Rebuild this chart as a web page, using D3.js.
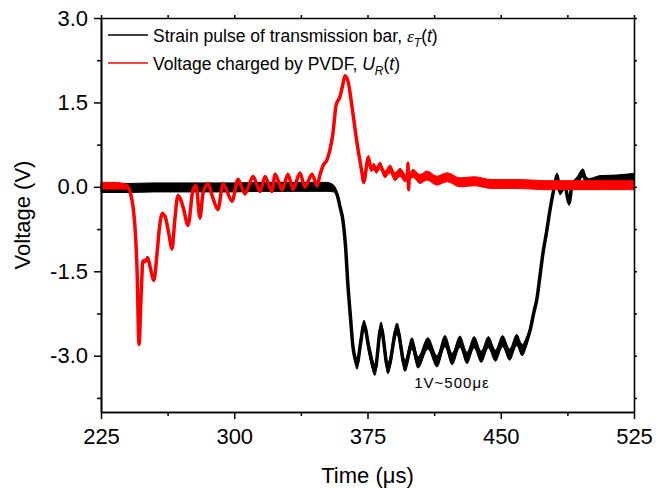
<!DOCTYPE html>
<html>
<head>
<meta charset="utf-8">
<script src="https://cdn.jsdelivr.net/npm/d3@7"></script>
<style>
  body { margin: 0; background: #fff; }
  text { font-family: "Liberation Sans", Arial, sans-serif; }
</style>
</head>
<body>
<div id="chart"></div>
<script>
// strain pulse of transmission bar (black)
const blackTime = [225, 240, 255, 270, 285, 300, 315, 330, 345, 352, 356, 358, 359.5, 361.2, 362.5, 364, 365.5, 366.8, 368, 369.1,
  371, 373, 376, 379.2, 382.6, 386.5, 391.6, 396.1, 400, 403.4, 409, 414.1, 418.6, 422.6, 427, 431, 435, 439, 443, 447,
  451, 455, 459, 462, 464.5, 466.5, 468.5, 470.5, 472, 473.8, 475.8, 477.7, 479.5, 480.5, 481.6, 483.3, 486, 488.5, 490, 493,
  496.3, 498, 500, 506, 515, 525];
const blackVolt = [-0.02, -0.02, -0.01, -0.01, -0.01, -0.01, 0.0, 0.0, 0.0, 0.0, -0.03, -0.15, -0.35, -0.6, -1.0, -1.75, -2.35, -2.84, -3.05, -3.15,
  -2.8, -2.45, -2.9, -3.25, -2.5, -3.22, -2.52, -3.18, -2.78, -3.12, -2.78, -3.1, -2.74, -3.06, -2.75, -3.04, -2.76, -3.02, -2.76, -3.0,
  -2.74, -2.98, -2.72, -2.9, -2.75, -2.55, -2.25, -1.96, -1.6, -1.17, -0.8, -0.41, -0.1, 0.05, 0.2, -0.08, 0.02, -0.28, 0.0, 0.1,
  0.25, 0.1, 0.07, 0.11, 0.12, 0.15];
const blackSpread = [0.08, 0.08, 0.08, 0.08, 0.08, 0.08, 0.08, 0.08, 0.08, 0.08, 0.06, 0.04, 0.03, 0.03, 0.03, 0.03, 0.03, 0.05, 0.08, 0.09,
  0.09, 0.08, 0.1, 0.1, 0.1, 0.1, 0.1, 0.1, 0.1, 0.1, 0.1, 0.1, 0.1, 0.1, 0.1, 0.1, 0.1, 0.1, 0.1, 0.1,
  0.1, 0.1, 0.1, 0.1, 0.08, 0.05, 0.03, 0.03, 0.03, 0.03, 0.03, 0.03, 0.03, 0.04, 0.05, 0.06, 0.06, 0.05, 0.06, 0.08,
  0.07, 0.08, 0.08, 0.09, 0.09, 0.09];

// voltage charged by PVDF (red)
const redTime = [225, 232, 238, 240, 241.5, 243, 244.1, 245.3, 246.4, 247.5, 248.6, 250, 251.2, 252.5, 254.8, 256.5, 258, 259.5, 261, 263,
  265, 266.5, 268.3, 269.5, 271.2, 274, 276.8, 278.5, 280.7, 282.4, 285.2, 288, 290.8, 293.7, 298.8, 302.1, 306, 310.6, 314.5, 317.3,
  321.2, 323, 327, 330.2, 333.1, 337, 339.8, 343.8, 346.6, 348.3, 350, 352.2, 353.9, 355.6, 357.3, 359.5, 361, 362.3, 364, 366.3,
  369.1, 371.9, 372.8, 375.5, 377, 378.5, 380, 382, 384.8, 387.7, 390.5, 393.3, 396, 397.5, 397.8, 398.1, 398.5, 400.6, 404.5, 408.5,
  414, 419.8, 427, 435, 445, 460, 475, 490, 510, 525];
const redVolt = [0.02, 0.02, 0.01, 0.0, -0.1, -0.35, -0.7, -1.48, -2.8, -2.0, -1.32, -1.32, -1.26, -1.4, -1.66, -1.2, -0.7, -0.48, -0.52, -0.8,
  -1.1, -0.6, -0.16, -0.2, -0.36, -0.68, -0.05, 0.02, -0.55, -0.12, 0.05, -0.2, -0.4, 0.05, -0.25, 0.13, -0.12, 0.18, -0.08, 0.18,
  -0.08, 0.22, -0.05, 0.22, -0.04, 0.24, 0.0, 0.22, 0.02, 0.22, 0.38, 0.48, 0.66, 0.96, 1.45, 1.6, 1.8, 1.97, 1.88, 1.42,
  0.78, 0.25, 0.08, 0.52, 0.32, 0.36, 0.3, 0.38, 0.22, 0.32, 0.18, 0.26, 0.16, 0.15, 0.42, -0.05, 0.15, 0.24, 0.14, 0.2,
  0.11, 0.17, 0.08, 0.1, 0.05, 0.05, 0.03, 0.03, 0.03, 0.03];
const redSpread = [0.06, 0.06, 0.05, 0.04, 0.03, 0.02, 0.02, 0.02, 0.02, 0.02, 0.03, 0.03, 0.03, 0.03, 0.03, 0.03, 0.03, 0.03, 0.03, 0.03,
  0.03, 0.03, 0.03, 0.03, 0.03, 0.03, 0.03, 0.03, 0.03, 0.03, 0.03, 0.03, 0.03, 0.03, 0.03, 0.03, 0.03, 0.03, 0.03, 0.03,
  0.03, 0.03, 0.03, 0.03, 0.03, 0.03, 0.03, 0.03, 0.03, 0.03, 0.03, 0.03, 0.03, 0.03, 0.03, 0.03, 0.03, 0.03, 0.03, 0.03,
  0.03, 0.03, 0.03, 0.04, 0.05, 0.06, 0.06, 0.06, 0.06, 0.07, 0.07, 0.07, 0.07, 0.03, 0.02, 0.02, 0.06, 0.07, 0.08, 0.08,
  0.08, 0.08, 0.08, 0.08, 0.08, 0.08, 0.08, 0.08, 0.08, 0.08];

const xTicks = [225, 300, 375, 450, 525];
const yTicks = [-3.0, -1.5, 0.0, 1.5, 3.0];
const xMinor = [262.5, 337.5, 412.5, 487.5];
const yMinor = [-3.75, -2.25, -0.75, 0.75, 2.25];

const width = 656;
const height = 488;
const margin = { top: 18, right: 22, bottom: 76, left: 101 };

const svg = d3.select("#chart")
  .append("svg")
  .attr("width", width)
  .attr("height", height);

const x = d3.scaleLinear().domain([225, 525]).range([margin.left, width - margin.right]);
const y = d3.scaleLinear().domain([-4, 3]).range([height - margin.bottom, margin.top]);

const zip = (ts, vs, ws) => ts.map((t, i) => ({ t: t, v: vs[i], w: ws[i] }));
const blackData = zip(blackTime, blackVolt, blackSpread);
const redData = zip(redTime, redVolt, redSpread);

const band = d3.area()
  .curve(d3.curveMonotoneX)
  .x((d) => x(d.t))
  .y0((d) => y(d.v - d.w))
  .y1((d) => y(d.v + d.w));
const line = d3.line()
  .curve(d3.curveMonotoneX)
  .x((d) => x(d.t))
  .y((d) => y(d.v));

function drawTrace(data, color) {
  const g = svg.append("g");
  g.append("path")
    .datum(data)
    .attr("d", band)
    .attr("fill", color)
    .attr("stroke", color)
    .attr("stroke-width", 1);
  g.append("path")
    .datum(data)
    .attr("d", line)
    .attr("fill", "none")
    .attr("stroke", color)
    .attr("stroke-width", 3.5)
    .attr("stroke-linejoin", "round");
}
drawTrace(blackData, "#000000");
drawTrace(redData, "#ff0000");

// axes
const fmtY = (d) => d.toFixed(1);
const styleAxis = (g) => {
  g.selectAll(".domain").attr("stroke", "#000").attr("stroke-width", 1.6);
  g.selectAll(".tick line").attr("stroke", "#000").attr("stroke-width", 1.5);
  g.selectAll("text").attr("font-size", 22).attr("fill", "#000")
    .style("font-family", '"Liberation Sans", Arial, sans-serif');
};

const yBottom = height - margin.bottom;
const xRight = width - margin.right;

svg.append("g")
  .attr("transform", `translate(0,${yBottom})`)
  .call(d3.axisBottom(x).tickValues(xTicks).tickSize(7).tickSizeOuter(0).tickPadding(9).tickFormat((d) => d))
  .call(styleAxis);
svg.append("g")
  .attr("transform", `translate(0,${yBottom})`)
  .call(d3.axisBottom(x).tickValues(xMinor).tickSize(4).tickSizeOuter(0).tickFormat(""))
  .call(styleAxis);

svg.append("g")
  .attr("transform", `translate(${margin.left},0)`)
  .call(d3.axisLeft(y).tickValues(yTicks).tickSize(7).tickSizeOuter(0).tickPadding(6).tickFormat(fmtY))
  .call(styleAxis);
svg.append("g")
  .attr("transform", `translate(${margin.left},0)`)
  .call(d3.axisLeft(y).tickValues(yMinor).tickSize(4).tickSizeOuter(0).tickFormat(""))
  .call(styleAxis);

// top and right frame with small outward ticks
svg.append("g")
  .attr("transform", `translate(0,${margin.top})`)
  .call(d3.axisTop(x).tickValues(xTicks.concat(xMinor)).tickSize(3).tickSizeOuter(0).tickFormat(""))
  .call(styleAxis);
svg.append("g")
  .attr("transform", `translate(${xRight},0)`)
  .call(d3.axisRight(y).tickValues(yTicks.concat(yMinor)).tickSize(3).tickSizeOuter(0).tickFormat(""))
  .call(styleAxis);

// axis titles
svg.append("text")
  .attr("x", (margin.left + xRight) / 2)
  .attr("y", 483)
  .attr("text-anchor", "middle")
  .attr("font-size", 22)
  .text("Time (μs)");

svg.append("text")
  .attr("transform", `translate(30,${(margin.top + yBottom) / 2}) rotate(-90)`)
  .attr("text-anchor", "middle")
  .attr("font-size", 22)
  .text("Voltage (V)");

// legend
const legend = svg.append("g").attr("font-size", 17.5);
function legendRow(yPos, color) {
  legend.append("line")
    .attr("x1", 108).attr("x2", 148)
    .attr("y1", yPos).attr("y2", yPos)
    .attr("stroke", color).attr("stroke-width", 1.6);
  return legend.append("text").attr("x", 153).attr("y", yPos + 6.5);
}
const t1 = legendRow(35, "#000000");
t1.append("tspan").text("Strain pulse of transmission bar, ");
t1.append("tspan").attr("font-style", "italic").style("font-family", '"Liberation Serif", serif').text("ε");
t1.append("tspan").attr("font-style", "italic").attr("font-size", 12).attr("dy", 5).text("T");
t1.append("tspan").attr("dy", -5).text("(");
t1.append("tspan").attr("font-style", "italic").text("t");
t1.append("tspan").text(")");

const t2 = legendRow(63, "#ff0000");
t2.append("tspan").text("Voltage charged by PVDF, ");
t2.append("tspan").attr("font-style", "italic").text("U");
t2.append("tspan").attr("font-style", "italic").attr("font-size", 12).attr("dy", 5).text("R");
t2.append("tspan").attr("dy", -5).text("(");
t2.append("tspan").attr("font-style", "italic").text("t");
t2.append("tspan").text(")");

// annotation
svg.append("text")
  .attr("x", 452)
  .attr("y", 388)
  .attr("text-anchor", "middle")
  .attr("font-size", 15)
  .attr("letter-spacing", 1)
  .text("1V~500με");
</script>
</body>
</html>
